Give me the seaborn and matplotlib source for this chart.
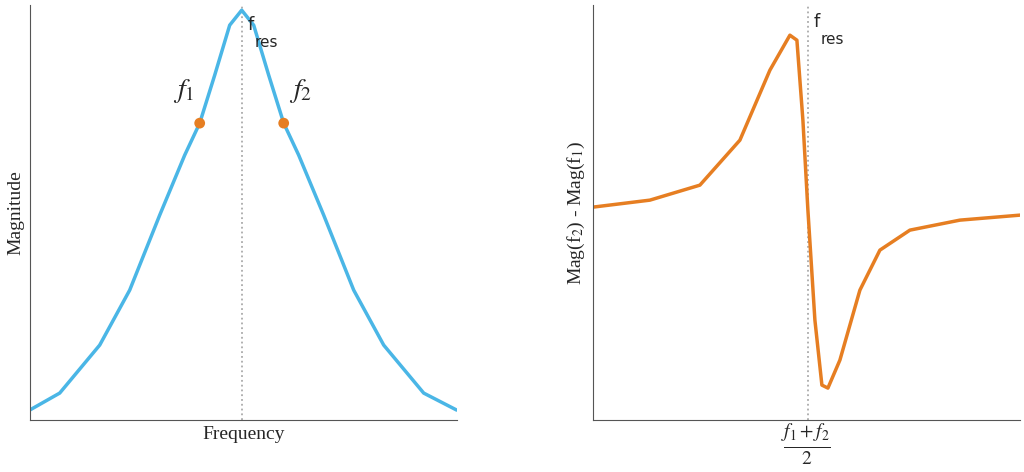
import numpy as np
import pandas as pd
import seaborn as sns
import matplotlib.pyplot as plt

# resonance curve (frequency in arbitrary units)
freq = [3.0, 6.0, 10.0, 13.0, 16.0, 18.5, 20.0, 21.5, 23.0, 24.2,
        25.4, 26.9, 28.4, 29.9, 32.4, 35.4, 38.4, 42.4, 45.7]
mag = [10, 27, 75, 130, 205, 265, 297, 345, 395, 410,
       395, 345, 297, 265, 205, 130, 75, 27, 10]
f_res = 24.2
f1, f2 = 20.0, 28.4
mag_f = [297, 297]

# difference curve
mid = [59.3, 65.0, 70.0, 74.0, 77.0, 79.0, 79.7, 80.3, 80.8, 81.5,
       82.2, 82.8, 84.0, 86.0, 88.0, 91.0, 96.0, 102.0]
diff = [213, 220, 235, 280, 350, 385, 380, 300, 210, 100,
        35, 32, 60, 130, 170, 190, 200, 205]

sns.set_style("white")
plt.rcParams['mathtext.fontset'] = 'stix'
blue = '#4AB6E6'
orange = '#E67E22'

fig = plt.figure(figsize=(10.24, 4.72), dpi=100)
ax1 = fig.add_axes([0.029, 0.11, 0.417, 0.879])
ax2 = fig.add_axes([0.579, 0.11, 0.417, 0.879])

sns.lineplot(x=freq, y=mag, ax=ax1, color=blue, lw=2.5)
ax1.axvline(f_res, color='#aaaaaa', ls=':', lw=1.3, zorder=0)
sns.scatterplot(x=[f1, f2], y=mag_f, ax=ax1, color=orange, s=60, zorder=5, edgecolor='none')
ax1.text(f1 - 0.5, mag_f[0] + 18, '$f_1$', fontsize=20, ha='right', va='bottom')
ax1.text(f2 + 0.5, mag_f[1] + 18, '$f_2$', fontsize=20, ha='left', va='bottom')
ax1.text(f_res + 0.6, 395, 'f', fontsize=13, va='center')
ax1.text(f_res + 1.3, 385, 'res', fontsize=11, va='top')
ax1.set_xlim(3.0, 45.7)
ax1.set_ylim(0, 415)
ax1.set_xlabel('Frequency', family='Liberation Serif', fontsize=14)
ax1.set_ylabel('Magnitude', family='Liberation Serif', fontsize=14)

sns.lineplot(x=mid, y=diff, ax=ax2, color=orange, lw=2.5)
ax2.axvline(80.8, color='#aaaaaa', ls=':', lw=1.3, zorder=0)
ax2.text(81.4, 398, 'f', fontsize=13, va='center')
ax2.text(82.1, 388, 'res', fontsize=11, va='top')
ax2.set_xlim(59.3, 102.0)
ax2.set_ylim(0, 415)
ax2.set_xlabel(r'$\frac{f_1+f_2}{2}$', fontsize=20, labelpad=2)
ax2.set_ylabel('Mag(f$_2$) - Mag(f$_1$)', family='Liberation Serif', fontsize=14)

for ax in (ax1, ax2):
    ax.set_xticks([])
    ax.set_yticks([])
    for s in ('top', 'right'):
        ax.spines[s].set_visible(False)
    for s in ('left', 'bottom'):
        ax.spines[s].set_color('#555555')
        ax.spines[s].set_linewidth(0.8)

fig.savefig('out.png', dpi=100)
